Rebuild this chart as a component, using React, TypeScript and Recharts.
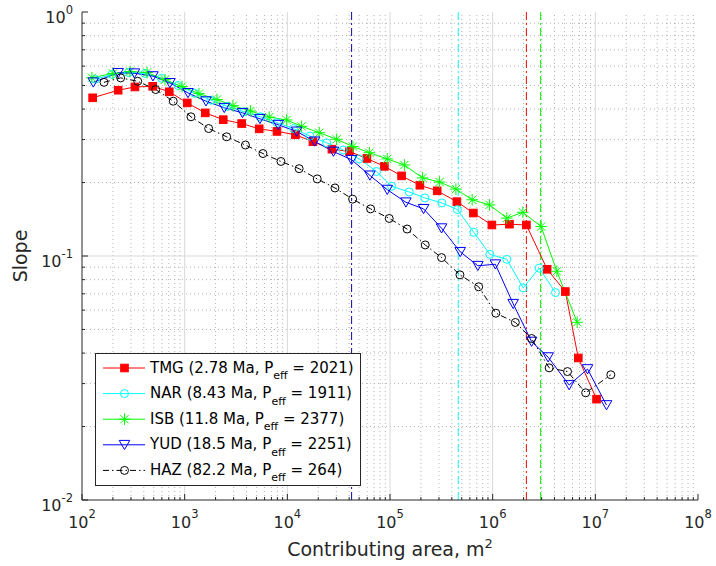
import React from 'react';
import { LineChart, Line, XAxis, YAxis, ReferenceLine, Legend, Label } from 'recharts';

// ---------- data ----------
const tmgArea = [127, 225, 328, 488, 708, 1060, 1588, 2377, 3589, 5324, 7925, 11990, 17750, 27180, 40270, 59570, 88150, 129700, 195500, 288300, 448000, 648700, 982000, 1456000, 2130000, 3396000, 5105000, 6823000, 10280000];
const tmgSlope = [0.445, 0.478, 0.493, 0.496, 0.471, 0.424, 0.386, 0.362, 0.349, 0.332, 0.324, 0.314, 0.294, 0.274, 0.268, 0.251, 0.233, 0.213, 0.195, 0.185, 0.167, 0.150, 0.134, 0.135, 0.134, 0.0882, 0.0715, 0.0382, 0.0259];

const narArea = [135, 196, 284, 411, 594, 861, 1246, 1803, 2610, 3779, 5470, 7925, 11460, 16600, 24140, 35000, 50120, 74100, 103700, 153800, 218600, 320000, 452900, 656000, 939000, 1374000, 1982000, 2836000, 4093000];
const narSlope = [0.53, 0.555, 0.565, 0.56, 0.535, 0.5, 0.465, 0.435, 0.41, 0.39, 0.372, 0.352, 0.333, 0.31, 0.291, 0.272, 0.25, 0.222, 0.193, 0.183, 0.173, 0.165, 0.155, 0.125, 0.1016, 0.0969, 0.074, 0.0892, 0.0708];

const isbArea = [125, 200, 293, 430, 643, 942, 1378, 2064, 2953, 4372, 6668, 9840, 13770, 20450, 30200, 43550, 62970, 93960, 138100, 207600, 304000, 438500, 631000, 933000, 1374000, 1968000, 2965000, 4217000, 6650000];
const isbSlope = [0.538, 0.56, 0.57, 0.565, 0.528, 0.495, 0.463, 0.438, 0.413, 0.393, 0.371, 0.361, 0.34, 0.32, 0.301, 0.281, 0.265, 0.25, 0.236, 0.209, 0.201, 0.188, 0.17, 0.162, 0.143, 0.151, 0.132, 0.0866, 0.0535];

const yudArea = [128.8, 225, 324, 491, 719, 1077, 1612, 2431, 3655, 5408, 8150, 12320, 18450, 28120, 42270, 63700, 93960, 142900, 212400, 317900, 483000, 717800, 1062000, 1584000, 2393000, 3468000, 5557000, 8395000, 12850000];
const yudSlope = [0.515, 0.563, 0.561, 0.546, 0.512, 0.466, 0.431, 0.405, 0.386, 0.365, 0.345, 0.324, 0.295, 0.268, 0.248, 0.214, 0.187, 0.166, 0.156, 0.13, 0.104, 0.0912, 0.0925, 0.0637, 0.0446, 0.0385, 0.0296, 0.0344, 0.0245];

const hazArea = [163.8, 238, 349, 522, 774, 1151, 1713, 2564, 3908, 5787, 8665, 13030, 19550, 29090, 43240, 64710, 98230, 146800, 220300, 317800, 479800, 731000, 1074000, 1663000, 2393000, 3548000, 5358000, 8048000, 14160000];
const hazSlope = [0.515, 0.537, 0.52, 0.481, 0.431, 0.372, 0.333, 0.308, 0.285, 0.263, 0.244, 0.228, 0.207, 0.19, 0.171, 0.156, 0.1425, 0.129, 0.111, 0.0985, 0.0837, 0.0748, 0.0583, 0.0534, 0.0459, 0.0348, 0.0336, 0.0275, 0.0326];

const seriesNames = ['TMG', 'NAR', 'ISB', 'YUD', 'HAZ'];
const seriesAges = ['2.78', '8.43', '11.8', '18.5', '82.2'];
const seriesPeff = ['2021', '1911', '2377', '2251', '264'];
const knickAreas = [2130000, 462000, 2930000, 42270];

const xDecades = [1e2, 1e3, 1e4, 1e5, 1e6, 1e7, 1e8];
const yDecades = [1e-2, 1e-1, 1];
const mults = [2, 3, 4, 5, 6, 7, 8, 9];
const xMinor = xDecades.slice(0, -1).flatMap((d) => mults.map((m) => m * d));
const yMinor = yDecades.slice(0, -1).flatMap((d) => mults.map((m) => m * d));
const xTicks = [...xDecades, ...xMinor];
const yTicks = [...yDecades, ...yMinor];

// ---------- styles ----------
const FONT = '"DejaVu Sans", Verdana, sans-serif';
const AX = '#262626';
const COLORS = ['#ff0000', '#00ffff', '#00ff00', '#0000ff', '#000000'];
const KNICK_COLORS = ['#ff0000', '#00ffff', '#00ff00', '#0c0ca8'];

const toData = (a: number[], s: number[]) => a.map((v, i) => ({ area: v, slope: s[i] }));
const seriesData = [
  toData(tmgArea, tmgSlope),
  toData(narArea, narSlope),
  toData(isbArea, isbSlope),
  toData(yudArea, yudSlope),
  toData(hazArea, hazSlope),
];

const isMajor = (v: number) => {
  const e = Math.round(Math.log10(v));
  return Math.abs(v - Math.pow(10, e)) < 1e-6 * v;
};

// ---------- markers ----------
const drawMarker = (kind: number, cx: number, cy: number, key?: any) => {
  const c = COLORS[kind];
  if (kind === 0) {
    return <rect key={key} x={cx - 3.8} y={cy - 3.8} width={7.6} height={7.6} fill={c} stroke={c} strokeWidth={1} />;
  }
  if (kind === 1 || kind === 4) {
    return <circle key={key} cx={cx} cy={cy} r={4} fill="none" stroke={c} strokeWidth={1} />;
  }
  if (kind === 2) {
    const r = 5.8;
    const d = r * 0.7071;
    return (
      <g key={key} stroke={c} strokeWidth={1}>
        <line x1={cx - r} y1={cy} x2={cx + r} y2={cy} />
        <line x1={cx} y1={cy - r} x2={cx} y2={cy + r} />
        <line x1={cx - d} y1={cy - d} x2={cx + d} y2={cy + d} />
        <line x1={cx - d} y1={cy + d} x2={cx + d} y2={cy - d} />
      </g>
    );
  }
  return (
    <polygon
      key={key}
      points={`${cx - 5.3},${cy - 4.4} ${cx + 5.3},${cy - 4.4} ${cx},${cy + 4.8}`}
      fill="none"
      stroke={c}
      strokeWidth={1}
    />
  );
};

const makeDot = (kind: number) => (p: any) => {
  if (p.cx == null || p.cy == null) return <g key={`e-${p.index}`} />;
  return drawMarker(kind, p.cx, p.cy, `m-${kind}-${p.index}`);
};

// ---------- ticks ----------
const XTickBottom = (props: any) => {
  const { x, y, payload } = props;
  const v = payload.value;
  const major = isMajor(v);
  const e = Math.round(Math.log10(v));
  return (
    <g>
      <line x1={x} x2={x} y1={y} y2={y - (major ? 6 : 3)} stroke={AX} strokeWidth={1} />
      {major && (
        <text x={x} y={y + 28} textAnchor="middle" fontFamily={FONT} fontSize={16} fill={AX}>
          <tspan>10</tspan>
          <tspan dy={-10} fontSize={11.5}>{e}</tspan>
        </text>
      )}
    </g>
  );
};

const XTickTop = (props: any) => {
  const { x, y, payload } = props;
  const major = isMajor(payload.value);
  return <line x1={x} x2={x} y1={y} y2={y + (major ? 6 : 3)} stroke={AX} strokeWidth={1} />;
};

const YTickLeft = (props: any) => {
  const { x, y, payload } = props;
  const v = payload.value;
  const major = isMajor(v);
  const e = Math.round(Math.log10(v));
  return (
    <g>
      <line x1={x} x2={x + (major ? 6 : 3)} y1={y} y2={y} stroke={AX} strokeWidth={1} />
      {major && (
        <text x={x - 9} y={y + 10.5} textAnchor="end" fontFamily={FONT} fontSize={16} fill={AX}>
          <tspan>10</tspan>
          <tspan dy={-8.5} fontSize={11.5}>{e}</tspan>
        </text>
      )}
    </g>
  );
};

const YTickRight = (props: any) => {
  const { x, y, payload } = props;
  const major = isMajor(payload.value);
  return <line x1={x} x2={x - (major ? 6 : 3)} y1={y} y2={y} stroke={AX} strokeWidth={1} />;
};

// ---------- legend ----------
const LW = 266;
const LH = 133;
const LegendBox = () => (
  <svg width={LW} height={LH} style={{ display: 'block' }}>
    <rect x={0.5} y={0.5} width={LW - 1} height={LH - 1} fill="#ffffff" stroke={AX} strokeWidth={1} />
    {seriesNames.map((n, i) => {
      const cy = 15 + i * 25.6;
      return (
        <g key={n}>
          <line
            x1={8}
            x2={50}
            y1={cy}
            y2={cy}
            stroke={COLORS[i]}
            strokeWidth={1}
            strokeDasharray={i === 4 ? '6 3 1.5 3' : undefined}
          />
          {drawMarker(i, 29.5, cy)}
          <text x={55} y={cy + 4.5} fontFamily={FONT} fontSize={15} fill="#000">
            <tspan>{`${n} (${seriesAges[i]} Ma, P`}</tspan>
            <tspan dy={6.5} fontSize={11}>eff</tspan>
            <tspan dy={-6.5}>{` = ${seriesPeff[i]})`}</tspan>
          </text>
        </g>
      );
    })}
  </svg>
);

export default function App() {
  return (
    <div style={{ position: 'absolute', left: 0, top: 0, width: 716, height: 566, background: '#ffffff' }}>
      <LineChart width={716} height={566} margin={{ top: 12, right: 18, bottom: 26, left: 22 }}>
        <XAxis
          xAxisId={0}
          dataKey="area"
          type="number"
          scale="log"
          domain={[100, 1e8]}
          allowDataOverflow
          ticks={xTicks}
          interval={0}
          tick={<XTickBottom />}
          tickLine={false}
          tickSize={0}
          tickMargin={0}
          height={40}
          axisLine={{ stroke: AX, strokeWidth: 1 }}
        >
          <Label
            content={(p: any) => {
              const vb = p.viewBox || {};
              const cx = (vb.x ?? 82) + (vb.width ?? 616) / 2;
              return (
                <text x={cx} y={556} textAnchor="middle" fontFamily={FONT} fontSize={19} fill={AX}>
                  <tspan>Contributing area, m</tspan>
                  <tspan dy={-8} fontSize={13}>2</tspan>
                </text>
              );
            }}
          />
        </XAxis>
        <XAxis
          xAxisId="top"
          orientation="top"
          dataKey="area"
          type="number"
          scale="log"
          domain={[100, 1e8]}
          allowDataOverflow
          ticks={xTicks}
          interval={0}
          tick={<XTickTop />}
          tickLine={false}
          tickSize={0}
          tickMargin={0}
          height={0}
          axisLine={{ stroke: AX, strokeWidth: 1 }}
        />
        <YAxis
          yAxisId={0}
          dataKey="slope"
          type="number"
          scale="log"
          domain={[0.01, 1]}
          allowDataOverflow
          ticks={yTicks}
          interval={0}
          tick={<YTickLeft />}
          tickLine={false}
          tickSize={0}
          tickMargin={0}
          width={60}
          axisLine={{ stroke: AX, strokeWidth: 1 }}
        >
          <Label
            content={(p: any) => {
              const vb = p.viewBox || {};
              const cy = (vb.y ?? 12) + (vb.height ?? 488) / 2;
              return (
                <text
                  x={27}
                  y={cy}
                  transform={`rotate(-90, 27, ${cy})`}
                  textAnchor="middle"
                  fontFamily={FONT}
                  fontSize={19}
                  fill={AX}
                >
                  Slope
                </text>
              );
            }}
          />
        </YAxis>
        <YAxis
          yAxisId="right"
          orientation="right"
          type="number"
          scale="log"
          domain={[0.01, 1]}
          allowDataOverflow
          ticks={yTicks}
          interval={0}
          tick={<YTickRight />}
          tickLine={false}
          tickSize={0}
          tickMargin={0}
          width={0}
          axisLine={{ stroke: AX, strokeWidth: 1 }}
        />

        {xMinor.map((v) => (
          <ReferenceLine key={`xm-${v}`} x={v} stroke="#b4b4b4" strokeWidth={1} strokeDasharray="1 3" zIndex={-60} />
        ))}
        {yMinor.map((v) => (
          <ReferenceLine key={`ym-${v}`} y={v} stroke="#b4b4b4" strokeWidth={1} strokeDasharray="1 3" zIndex={-60} />
        ))}
        {xDecades.slice(1, -1).map((v) => (
          <ReferenceLine key={`xM-${v}`} x={v} stroke="#d8d8d8" strokeWidth={1} zIndex={-50} />
        ))}
        {yDecades.slice(1, -1).map((v) => (
          <ReferenceLine key={`yM-${v}`} y={v} stroke="#d8d8d8" strokeWidth={1} zIndex={-50} />
        ))}
        {knickAreas.map((v, i) => (
          <ReferenceLine
            key={`k-${i}`}
            x={v}
            stroke={KNICK_COLORS[i]}
            strokeWidth={1}
            strokeDasharray="8 3 2 3"
            zIndex={-40}
          />
        ))}

        {seriesData.map((d, i) => (
          <Line
            key={seriesNames[i]}
            data={d}
            dataKey="slope"
            name={seriesNames[i]}
            type="linear"
            stroke={COLORS[i]}
            strokeWidth={1}
            strokeDasharray={i === 4 ? '6 3 1.5 3' : undefined}
            dot={makeDot(i)}
            activeDot={false}
            isAnimationActive={false}
          />
        ))}

        <Legend
          layout="vertical"
          align="center"
          verticalAlign="middle"
          wrapperStyle={{ left: 95, top: 353, width: LW, height: LH }}
          content={() => <LegendBox />}
        />
      </LineChart>
    </div>
  );
}
